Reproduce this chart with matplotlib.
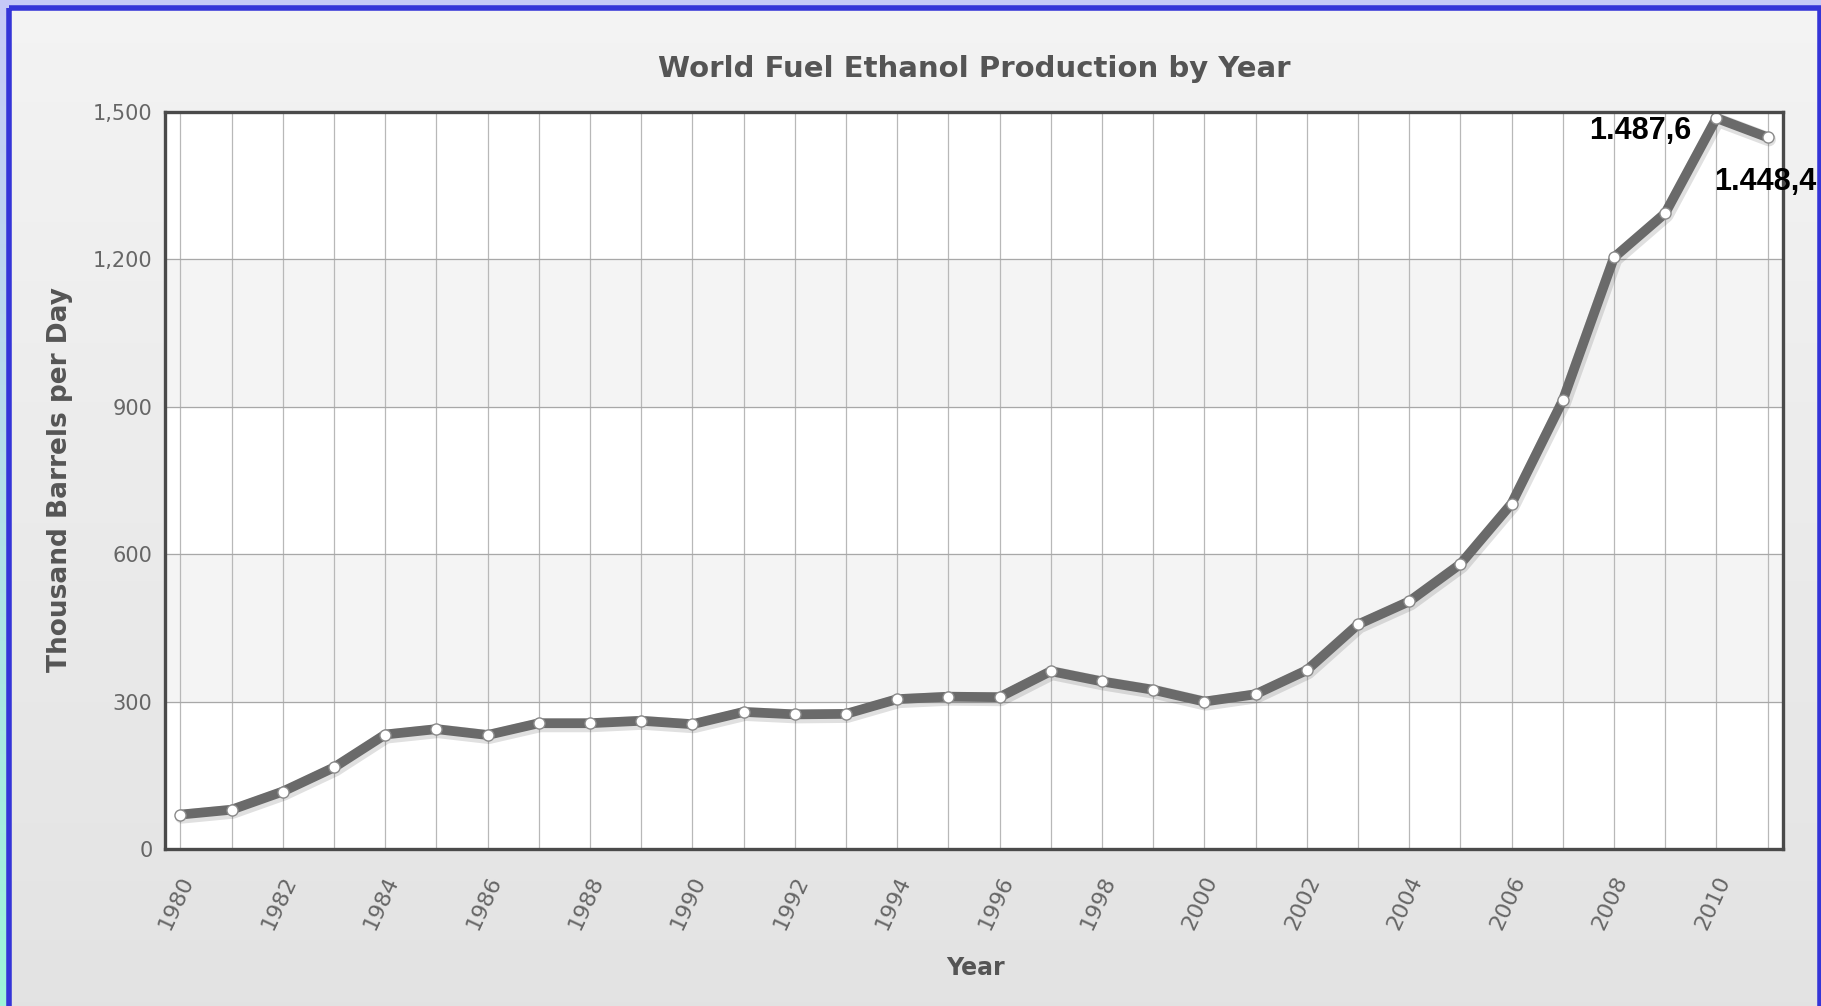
import matplotlib
matplotlib.use("Agg")
import matplotlib.pyplot as plt
import matplotlib.patheffects as pe
import matplotlib.transforms as mtransforms
from matplotlib import font_manager
from matplotlib.patches import Rectangle
import numpy as np

# data
years = list(range(1980, 2012))
production = [70, 80, 117, 166, 233, 244, 232, 256, 256, 261, 254, 279, 274, 275,
              305, 310, 309, 362, 341, 324, 300, 315, 364, 457, 504, 580, 703, 913,
              1204, 1294, 1487.6, 1448.4]
year_ticks = list(range(1980, 2011, 2))
value_ticks = [0, 300, 600, 900, 1200, 1500]
value_tick_labels = ["0", "300", "600", "900", "1,200", "1,500"]
callouts = {2010: "1.487,6", 2011: "1.448,4"}

title = "World Fuel Ethanol Production by Year"
x_label = "Year"
y_label = "Thousand Barrels per Day"

W, H, DPI = 1821, 1006, 100
installed = {f.name for f in font_manager.fontManager.ttflist}
if "Liberation Sans Narrow" in installed:
    title_family, title_size = "Liberation Sans Narrow", 25
else:
    title_family, title_size = "DejaVu Sans", 21

fig = plt.figure(figsize=(W / DPI, H / DPI), dpi=DPI)

# background: outer gradient, blue frame, light grey inner gradient
bg = fig.add_axes([0, 0, 1, 1], zorder=0)
bg.set_xlim(0, W)
bg.set_ylim(H, 0)
bg.axis("off")
outer = np.linspace(0, 1, 256)[:, None, None]
outer_img = (1 - outer) * np.array([0.78, 0.79, 0.97]) + outer * np.array([0.62, 0.96, 0.85])
bg.imshow(outer_img, extent=[0, W, H, 0], aspect="auto")
inner = np.linspace(0, 1, 256)[:, None, None]
inner_img = (1 - inner) * np.array([0.955, 0.955, 0.955]) + inner * np.array([0.89, 0.89, 0.89])
bg.imshow(inner_img, extent=[9, W - 2, H, 8], aspect="auto")
bg.add_patch(Rectangle((8.5, 7.5), W - 10, H, fill=False, edgecolor="#3535d8", linewidth=4))

ax = fig.add_axes([165 / W, 1 - 849 / H, (1783 - 165) / W, (849 - 112) / H], zorder=1)
ax.set_facecolor("white")
for lo in (300, 900):
    ax.axhspan(lo, lo + 300, color="#f4f4f4", zorder=0)
for yr in years:
    ax.axvline(yr, color="#b8b8b8", linewidth=0.9, zorder=1)
for v in value_ticks[1:-1]:
    ax.axhline(v, color="#a8a8a8", linewidth=0.9, zorder=1)

# thick line with a soft shadow, then the white markers on top
ax.plot(years, production, color="#6a6a6a", linewidth=7, solid_joinstyle="round",
        solid_capstyle="round", zorder=3,
        path_effects=[pe.SimpleLineShadow(offset=(1, -1.5), shadow_color="#000000",
                                          alpha=0.12, linewidth=10),
                      pe.Normal()])
ax.plot(years, production, linestyle="none", marker="o", markersize=8,
        markerfacecolor="white", markeredgecolor="#8a8a8a", markeredgewidth=1, zorder=4)

ax.set_xlim(1979.7, 2011.3)
ax.set_ylim(0, 1500)
ax.set_yticks(value_ticks)
ax.set_yticklabels(value_tick_labels)
ax.set_xticks(year_ticks)
ax.set_xticklabels([str(y) for y in year_ticks], rotation=65, ha="right", va="center",
                   rotation_mode="anchor")
ax.tick_params(axis="both", length=0, colors="#666666", labelsize=15)
ax.tick_params(axis="x", labelsize=16, pad=20)
ax.tick_params(axis="y", pad=9)
shift = mtransforms.ScaledTranslation(8 / DPI, 0, fig.dpi_scale_trans)
for lab in ax.get_xticklabels():
    lab.set_transform(lab.get_transform() + shift)

for sp in ax.spines.values():
    sp.set_color("#4a4a4a")
    sp.set_linewidth(2.4)
    sp.set_zorder(5)

for yr, text in callouts.items():
    val = production[years.index(yr)]
    if yr == 2010:
        off, ha = (-18, -9), "right"
    else:
        off, ha = (-2, -32), "center"
    ax.annotate(text, (yr, val), xytext=off, textcoords="offset points", ha=ha, va="center",
                fontsize=22, fontweight="bold", family="Liberation Sans", color="black",
                annotation_clip=False, zorder=6)

fig.text(974 / W, 1 - 77 / H, title, ha="center", va="baseline", fontsize=title_size,
         fontweight="bold", family=title_family, color="#555555")
fig.text(976 / W, 1 - 975 / H, x_label, ha="center", va="baseline", fontsize=17,
         fontweight="bold", color="#555555")
fig.text(60 / W, 1 - 480 / H, y_label, ha="center", va="center", rotation=90, fontsize=19,
         fontweight="bold", color="#555555")

fig.savefig("out.png", dpi=DPI)
